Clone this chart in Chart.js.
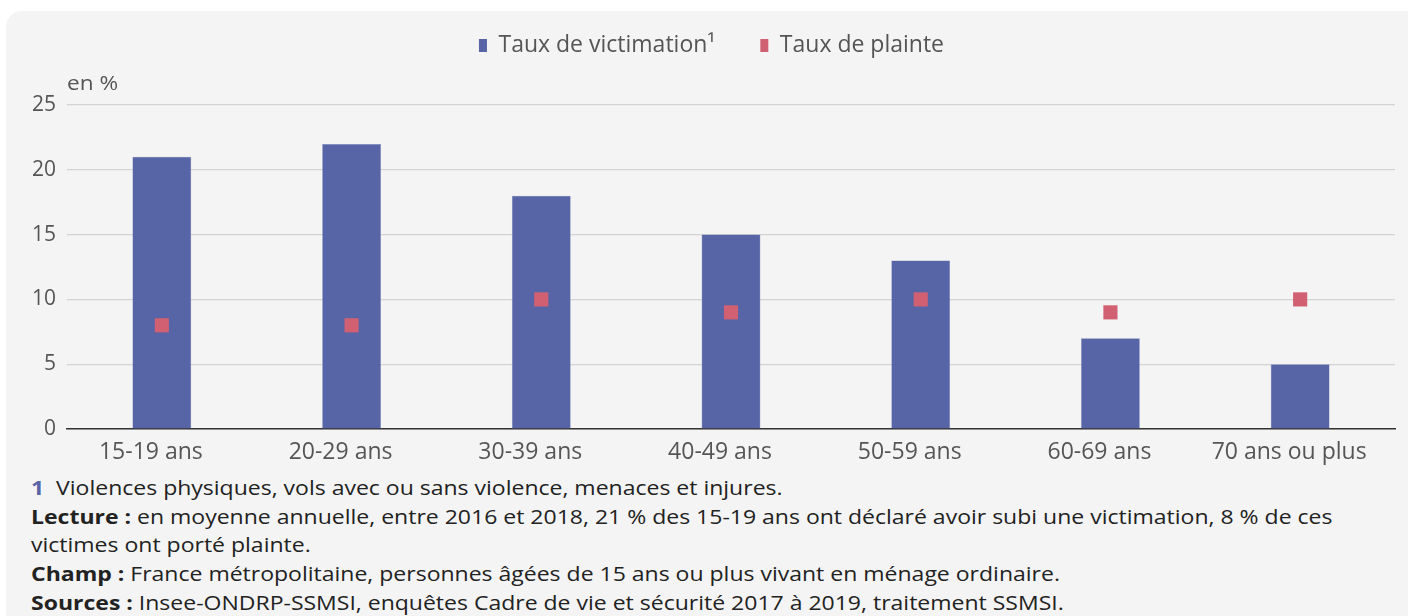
<!DOCTYPE html>
<html><head><meta charset="utf-8">
<script src="https://cdn.jsdelivr.net/npm/chart.js@4/dist/chart.umd.min.js"></script>
<style>
html,body{margin:0;padding:0;background:#fff;width:1408px;height:616px;overflow:hidden;font-family:"Open Sans",sans-serif;}
#panel{position:absolute;left:6px;top:11px;width:1440px;height:640px;background:#f4f4f4;border-radius:16px;}
#wrap{position:absolute;left:0;top:0;width:1408px;height:470px;}
#unit{position:absolute;left:67px;top:69px;font-size:20px;color:#555;transform:scaleX(1.13);transform-origin:left top;}
#notes{position:absolute;left:31px;top:474px;font-size:20px;line-height:28.7px;color:#222;transform:scaleX(1.15);transform-origin:left top;white-space:nowrap;}
#notes b{font-weight:700;}
#notes .n{color:#5764a6;font-weight:700;}
</style></head>
<body>
<div id="panel"></div>
<div id="wrap"><canvas id="c"></canvas></div>
<div id="unit">en %</div>
<div id="notes">
<div><span class="n">1</span>&nbsp; Violences physiques, vols avec ou sans violence, menaces et injures.</div>
<div><b>Lecture :</b> en moyenne annuelle, entre 2016 et 2018, 21 % des 15-19 ans ont déclaré avoir subi une victimation, 8 % de ces</div>
<div>victimes ont porté plainte.</div>
<div><b>Champ :</b> France métropolitaine, personnes âgées de 15 ans ou plus vivant en ménage ordinaire.</div>
<div><b>Sources :</b> Insee-ONDRP-SSMSI, enquêtes Cadre de vie et sécurité 2017 à 2019, traitement SSMSI.</div>
</div>
<script>
const categories = ["15-19 ans","20-29 ans","30-39 ans","40-49 ans","50-59 ans","60-69 ans","70 ans ou plus"];
const tauxVictimation = [21,22,18,15,13,7,5];
const tauxPlainte = [8,8,10,9,10,9,10];
const yTicks = [0,5,10,15,20,25];

const legendHeight = {
  id:'legendHeight',
  beforeInit(chart){
    const fit = chart.legend.fit;
    chart.legend.fit = function(){ fit.bind(chart.legend)(); this.height = 116; };
  },
  afterLayout(chart){ chart.legend.left += 28; }
};

new Chart(document.getElementById('c'), {
  data:{
    labels:categories,
    datasets:[
      {type:'bar',label:'Taux de victimation¹',data:tauxVictimation,backgroundColor:'#5764a6',borderColor:'#7a85bb',borderWidth:0.5,categoryPercentage:0.31,barPercentage:1,order:2},
      {type:'scatter',label:'Taux de plainte',data:tauxPlainte,backgroundColor:'#d06072',borderWidth:0,pointStyle:'rect',pointRadius:10,pointHoverRadius:10,order:1}
    ]
  },
  plugins:[legendHeight],
  options:{
    responsive:true,maintainAspectRatio:false,animation:false,
    layout:{padding:{top:-11,right:13,left:0,bottom:0}},
    plugins:{
      tooltip:{enabled:false},
      legend:{position:'top',align:'center',
        labels:{boxWidth:8,boxHeight:13,padding:45,color:'#555',font:{family:'Open Sans',size:23},
          generateLabels(chart){
            return chart.data.datasets.map((d,i)=>({text:d.label,fillStyle:d.backgroundColor,strokeStyle:d.backgroundColor,lineWidth:0,datasetIndex:i,hidden:false,fontColor:'#555'}));
          }}}
    },
    scales:{
      x:{type:'category',offset:true,grid:{display:false,drawTicks:false},border:{display:true,color:'#333',width:1.5},
        ticks:{color:'#555',font:{family:'Open Sans',size:23},padding:10,labelOffset:-11,maxRotation:0,autoSkip:false},
        afterFit(s){s.height=41;}},
      y:{min:0,max:25,afterBuildTicks(s){s.ticks=yTicks.map(v=>({value:v}));},
        grid:{color:'#d3d3d3',lineWidth:1.2,drawTicks:false},border:{display:false},
        ticks:{color:'#555',font:{family:'Open Sans',size:21},padding:11},
        afterFit(s){s.width=67;}}
    }
  }
});
</script>
</body></html>
